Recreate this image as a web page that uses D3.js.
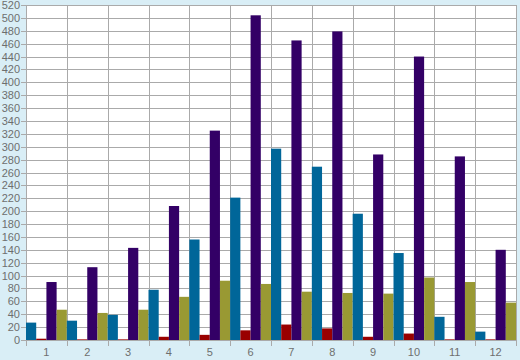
<!DOCTYPE html>
<html>
<head>
<meta charset="utf-8">
<script src="https://cdn.jsdelivr.net/npm/d3@7"></script>
<style>
  body { margin: 0; background: #d9eef6; }
  svg { display: block; }
  text { font-family: "Liberation Sans", Arial, sans-serif; font-size: 11px; fill: #6e6e6e; }
</style>
</head>
<body>
<div id="chart"></div>
<script>
let months = ["1", "2", "3", "4", "5", "6", "7", "8", "9", "10", "11", "12"]
let seriesNames = ["teal", "red", "purple", "olive"]
let tealValues = [27, 30, 39, 78, 156, 221, 297, 269, 196, 135, 36, 13]
let redValues = [2, 1, 1, 5, 8, 15, 24, 18, 5, 10, 1, 1]
let purpleValues = [90, 113, 143, 208, 325, 504, 465, 479, 288, 440, 285, 140]
let oliveValues = [47, 42, 47, 67, 92, 87, 75, 73, 72, 97, 90, 58]
let yTicks = d3.range(0, 521, 20)
let colors = ["#006699", "#990000", "#330066", "#999933"]

let svgWidth = 520, svgHeight = 360
let margin = { top: 5, right: 4, bottom: 20, left: 26 }

let svg = d3.select("#chart")
  .append("svg")
  .attr("width", svgWidth)
  .attr("height", svgHeight)

// build the rows from the arrays
let allValues = [tealValues, redValues, purpleValues, oliveValues]
let data = months.map((m, i) => ({ month: m, values: allValues.map(s => s[i]) }))

let x0 = d3.scaleBand()
  .domain(months)
  .range([margin.left, svgWidth - margin.right])
  .padding(0)

let x1 = d3.scaleBand()
  .domain(seriesNames)
  .range([0, x0.bandwidth()])
  .padding(0)

let y = d3.scaleLinear()
  .domain([0, 520])
  .range([svgHeight - margin.bottom, margin.top])

// plot background
svg.append("rect")
  .attr("x", margin.left)
  .attr("y", margin.top)
  .attr("width", svgWidth - margin.left - margin.right)
  .attr("height", svgHeight - margin.top - margin.bottom)
  .attr("fill", "#ffffff")

// horizontal grid
svg.append("g")
  .selectAll("line")
  .data(yTicks)
  .enter()
  .append("line")
  .attr("x1", margin.left - 5)
  .attr("x2", svgWidth - margin.right)
  .attr("y1", d => Math.round(y(d)) + 0.5)
  .attr("y2", d => Math.round(y(d)) + 0.5)
  .attr("stroke", "#aaaaaa")

// vertical grid at group edges
let edges = months.map(m => x0(m)).concat([svgWidth - margin.right])
svg.append("g")
  .selectAll("line")
  .data(edges)
  .enter()
  .append("line")
  .attr("x1", d => Math.round(d) + 0.5)
  .attr("x2", d => Math.round(d) + 0.5)
  .attr("y1", margin.top)
  .attr("y2", svgHeight - margin.bottom + 6)
  .attr("stroke", "#aaaaaa")

// bars
let groups = svg.append("g")
  .selectAll("g")
  .data(data)
  .enter()
  .append("g")
  .attr("transform", d => `translate(${x0(d.month)},0)`)

groups.selectAll("rect")
  .data(d => d.values.map((v, i) => ({ key: seriesNames[i], value: v, i: i })))
  .enter()
  .append("rect")
  .attr("x", d => x1(d.key))
  .attr("y", d => y(d.value))
  .attr("width", x1.bandwidth())
  .attr("height", d => y(0) - y(d.value))
  .attr("fill", d => colors[d.i])

// y labels
svg.append("g")
  .selectAll("text")
  .data(yTicks)
  .enter()
  .append("text")
  .attr("x", margin.left - 6)
  .attr("y", d => y(d) + 4)
  .attr("text-anchor", "end")
  .text(d => d)

// x labels
svg.append("g")
  .selectAll("text")
  .data(months)
  .enter()
  .append("text")
  .attr("x", d => x0(d) + x0.bandwidth() / 2)
  .attr("y", svgHeight - 4)
  .attr("text-anchor", "middle")
  .text(d => d)
</script>
</body>
</html>
